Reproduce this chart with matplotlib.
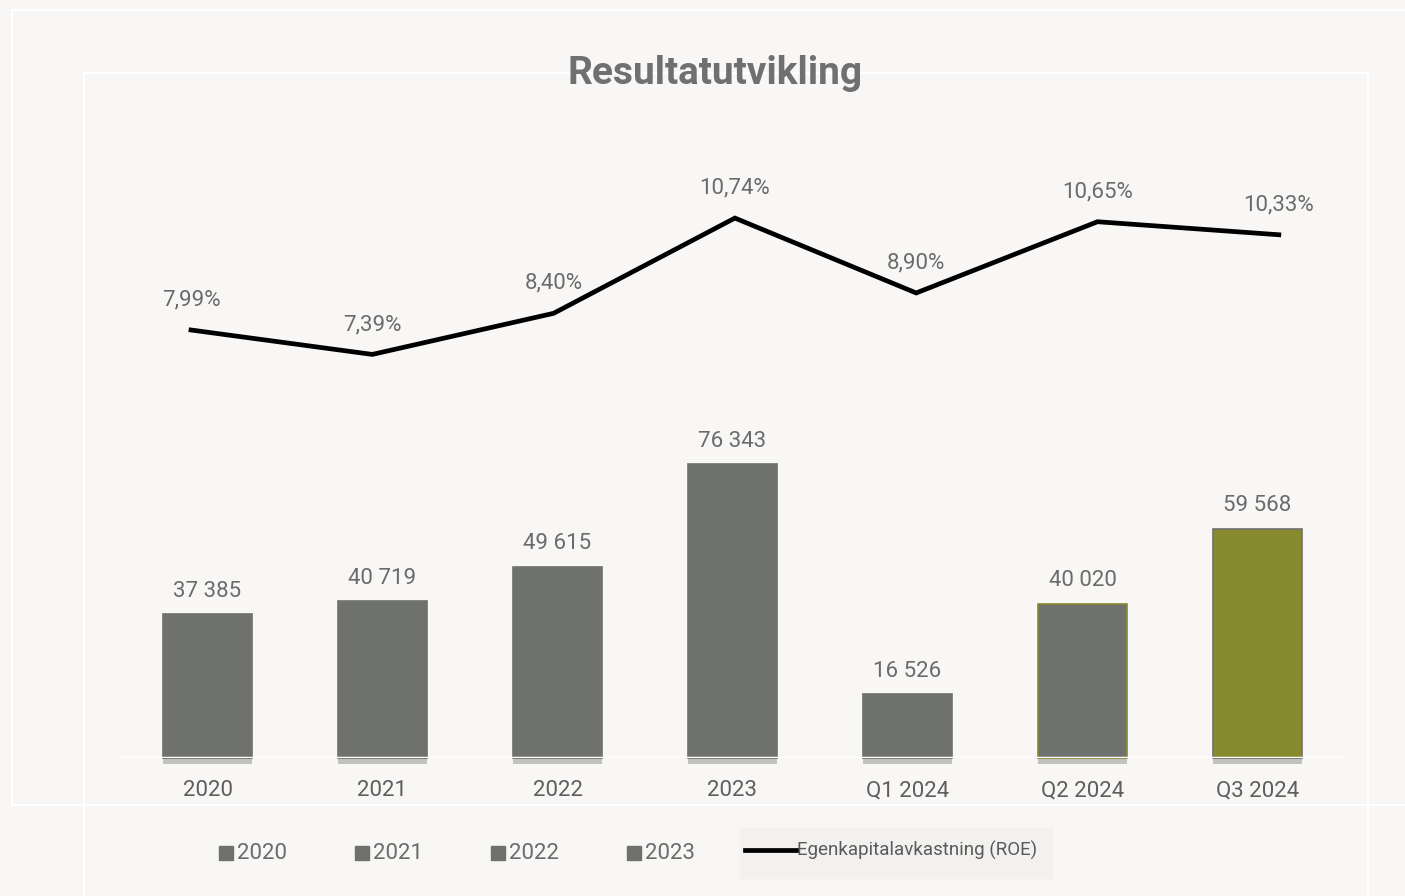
import matplotlib.pyplot as plt
import matplotlib.patheffects as pe
from matplotlib.lines import Line2D
from matplotlib.patches import Rectangle

plt.rcParams['font.family'] = ['Roboto', 'DejaVu Sans']

# data
perioder = ['2020', '2021', '2022', '2023', 'Q1 2024', 'Q2 2024', 'Q3 2024']
resultat = [37385, 40719, 49615, 76343, 16526, 40020, 59568]
roe = [7.99, 7.39, 8.40, 10.74, 8.90, 10.65, 10.33]
legend_years = ['2020', '2021', '2022', '2023']

bg = '#F8F7F5'
grey = '#6F716F'
olive = '#878A2F'
txt = '#6B6B6B'

bar_faces = [grey] * 5 + [grey, olive]
bar_edges = [grey] * 5 + [olive, grey]

fig = plt.figure(figsize=(14.05, 8.96), dpi=100, facecolor=bg)

# faint white frames behind the chart
for xs, ys in [([12 / 1405, 1], [1 - 10 / 896] * 2),
               ([12 / 1405, 12 / 1405], [1 - 10 / 896, 1 - 805 / 896]),
               ([12 / 1405, 1], [1 - 805 / 896] * 2),
               ([84 / 1405, 1368 / 1405], [1 - 73 / 896] * 2),
               ([84 / 1405, 84 / 1405], [1 - 73 / 896, 0]),
               ([1368 / 1405, 1368 / 1405], [1 - 73 / 896, 0])]:
    fig.add_artist(Line2D(xs, ys, color='white', lw=1.5, transform=fig.transFigure))

pos = [120 / 1405, 1 - 758 / 896, 1225 / 1405, 658 / 896]
ax = fig.add_axes(pos)
ax.set_facecolor('none')
x = range(len(perioder))
bars = ax.bar(x, resultat, width=0.514, color=bar_faces, edgecolor=bar_edges, linewidth=1.2,
              zorder=2)
for b in bars:
    b.set_clip_on(False)
    b.set_path_effects([pe.SimplePatchShadow(offset=(0, -4), shadow_rgbFace='#444444', alpha=0.3),
                        pe.Normal()])
ax.set_xlim(-0.5, 6.5)
ax.set_ylim(0, 658 / 0.00385)
for i, v in enumerate(resultat):
    ax.annotate(f'{v:,}'.replace(',', ' '), (i, v), xytext=(0, 9), textcoords='offset points',
                ha='center', va='bottom', fontsize=16, color=txt)
ax.axhline(0, color='white', lw=2.5, zorder=3)
ax.set_xticks(list(x))
ax.set_xticklabels(perioder, fontsize=16, color='#5E5E5E')
ax.tick_params(axis='x', length=0, pad=16)
ax.set_yticks([])
for s in ax.spines.values():
    s.set_visible(False)

# ROE line on its own axes
ax2 = fig.add_axes(pos)
ax2.set_facecolor('none')
ax2.plot(range(len(roe)), roe, color='black', lw=3.4, solid_joinstyle='miter')
for i, v in enumerate(roe):
    ax2.annotate(f'{v:.2f}%'.replace('.', ','), (i, v), xytext=(0, 14), textcoords='offset points',
                 ha='center', va='bottom', fontsize=16, color=txt)
ax2.set_xlim((120 - 191) / 181.3, (1345 - 191) / 181.3)
ax2.set_ylim(7.99 - 428 / 40.7, 7.99 + 230 / 40.7)
ax2.axis('off')

fig.text(715 / 1405, 1 - 73 / 896, 'Resultatutvikling', ha='center', va='center',
         fontsize=28, fontweight='bold', color='#707070')

# legend
ly = 1 - 853 / 896
for lx, lab in zip([219, 355, 491, 627], legend_years):
    fig.add_artist(Rectangle((lx / 1405, ly - 7 / 896), 14 / 1405, 14 / 896, color=grey,
                             transform=fig.transFigure))
    fig.text((lx + 18) / 1405, ly, lab, ha='left', va='center', fontsize=16, color=txt)
fig.add_artist(Rectangle((740 / 1405, 1 - 878 / 896), 312 / 1405, 50 / 896, color='#F2F1EF',
                         transform=fig.transFigure))
fig.add_artist(Line2D([745 / 1405, 797 / 1405], [1 - 850 / 896] * 2, color='black', lw=3.4,
                      transform=fig.transFigure))
fig.text(797 / 1405, 1 - 850 / 896, 'Egenkapitalavkastning (ROE)', ha='left', va='center',
         fontsize=13.5, color='#5A5A5A')

fig.savefig('out.png', dpi=100, facecolor=bg)
